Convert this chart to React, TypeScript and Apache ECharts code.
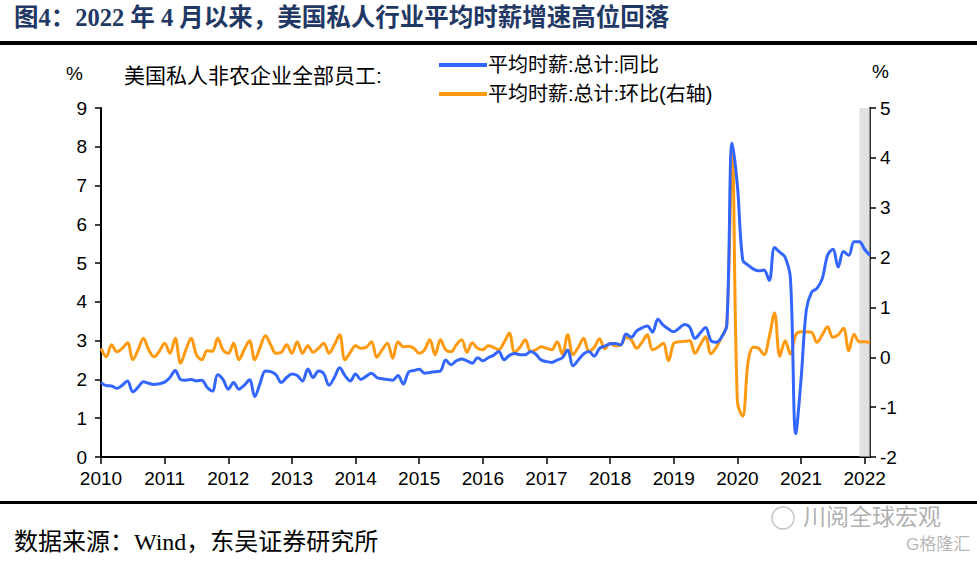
import React, { useEffect, useRef } from "react";
import * as echarts from "echarts";

const years = ["2010", "2011", "2012", "2013", "2014", "2015", "2016", "2017", "2018", "2019", "2020", "2021", "2022"];
const lastMonthOf2022 = 2;

// 平均时薪:总计:同比 (%), monthly from 2010-01
const yoy = [
  1.92, 1.84, 1.83, 1.77, 1.85, 1.96, 1.68, 1.80, 1.94, 1.90, 1.87, 1.89,
  1.93, 2.05, 2.23, 2.00, 1.98, 2.00, 1.96, 1.98, 1.80, 1.70, 2.12, 2.00,
  1.75, 1.92, 1.75, 1.85, 1.99, 1.56, 1.90, 2.22, 2.20, 2.12, 1.92, 2.05,
  2.14, 2.10, 1.96, 2.27, 2.05, 2.22, 2.15, 1.85, 2.05, 2.30, 2.10, 1.96,
  2.14, 2.00, 2.08, 2.16, 2.05, 2.02, 2.00, 1.98, 2.10, 1.88, 2.19, 2.23,
  2.26, 2.16, 2.18, 2.20, 2.22, 2.50, 2.38, 2.48, 2.53, 2.48, 2.42, 2.56,
  2.48, 2.56, 2.62, 2.72, 2.51, 2.62, 2.67, 2.64, 2.64, 2.72, 2.65, 2.50,
  2.46, 2.44, 2.50, 2.56, 2.76, 2.35, 2.50, 2.66, 2.72, 2.60, 2.80, 2.86,
  2.92, 2.93, 2.89, 3.17, 3.09, 3.25, 3.33, 3.38, 3.22, 3.55, 3.40, 3.30,
  3.23, 3.32, 3.42, 3.35, 3.06, 3.20, 3.34, 3.00, 2.96, 3.09, 3.40, 8.10,
  7.00, 5.08, 4.95, 4.85, 4.80, 4.82, 4.55, 5.40, 5.28, 5.15, 4.60, 0.60,
  2.00, 3.80, 4.25, 4.35, 4.60, 5.20, 5.36, 4.90, 5.30, 5.20, 5.55, 5.55,
  5.35, 5.20
];

// 平均时薪:总计:环比 (%, 右轴)
const mom = [
  0.18, 0.01, 0.25, 0.11, 0.18, 0.29, -0.05, 0.15, 0.38, 0.15, 0.01, 0.12,
  0.28, 0.08, 0.38, -0.12, 0.15, 0.38, 0.05, -0.05, 0.13, 0.12, 0.38, 0.15,
  0.08, 0.28, -0.05, 0.15, 0.33, -0.05, 0.20, 0.43, 0.25, 0.08, 0.10, 0.25,
  0.08, 0.31, 0.08, 0.23, 0.10, 0.18, 0.28, 0.08, 0.25, 0.45, -0.05, 0.10,
  0.23, 0.18, 0.20, 0.31, 0.00, 0.15, 0.28, -0.02, 0.31, 0.21, 0.22, 0.18,
  0.08, 0.15, 0.35, 0.05, 0.35, 0.15, 0.11, 0.25, 0.35, 0.10, 0.29, 0.18,
  0.15, 0.23, 0.20, 0.15, 0.30, 0.48, 0.10, 0.20, 0.35, 0.12, 0.15, 0.21,
  0.18, 0.15, 0.31, 0.06, 0.45, 0.05, 0.20, 0.38, 0.12, 0.20, 0.37, 0.17,
  0.28, 0.23, 0.25, 0.40, 0.35, 0.18, 0.30, 0.45, 0.15, 0.20, 0.28, -0.07,
  0.28, 0.31, 0.32, 0.33, 0.08, 0.25, 0.41, 0.07, 0.20, 0.40, 0.65, 4.26,
  -0.90, -1.18, -0.10, 0.20, 0.18, 0.05, 0.41, 0.89, 0.02, 0.33, 0.06, 0.45,
  0.51, 0.51, 0.50, 0.30, 0.45, 0.61, 0.40, 0.45, 0.58, 0.13, 0.46, 0.31,
  0.31, 0.30
];

const leftTicks = { min: 0, max: 9, interval: 1 };
const rightTicks = { min: -2, max: 5, interval: 1 };
const shadeRange = ["2021-12", "2022-02"];

const months: string[] = [];
years.forEach((y, i) => {
  const n = i === years.length - 1 ? lastMonthOf2022 : 12;
  for (let m = 1; m <= n; m++) months.push(`${y}-${m < 10 ? "0" + m : m}`);
});

const SANS = "'Liberation Sans', Arial, 'Noto Sans CJK SC', sans-serif";
const SERIF = "'Liberation Serif', 'Times New Roman', 'Noto Sans CJK SC', serif";

export default function App() {
  const ref = useRef<HTMLDivElement>(null);
  useEffect(() => {
    if (!ref.current) return;
    const chart = echarts.init(ref.current, undefined, { renderer: "svg" });
    chart.setOption({
      animation: false,
      backgroundColor: "#fff",
      grid: { left: 101, right: 107, top: 108, bottom: 104, containLabel: false },
      legend: {
        left: 434,
        top: 50,
        orient: "vertical",
        itemWidth: 48,
        itemHeight: 4,
        itemGap: 9,
        icon: "rect",
        textStyle: { fontFamily: SANS, fontSize: 20, color: "#000", padding: [0, 0, 0, -4] },
        data: ["平均时薪:总计:同比", "平均时薪:总计:环比(右轴)"],
      },
      xAxis: {
        type: "category",
        data: months,
        boundaryGap: false,
        axisLine: { lineStyle: { color: "#000", width: 2 } },
        axisTick: { show: true, interval: (i: number) => i % 12 === 0, length: 7, lineStyle: { color: "#000", width: 1.5 } },
        axisLabel: {
          interval: (i: number) => i % 12 === 0,
          formatter: (v: string) => v.slice(0, 4),
          fontFamily: SANS,
          fontSize: 19,
          color: "#000",
          margin: 12,
        },
        splitLine: { show: false },
      },
      yAxis: [
        {
          type: "value",
          ...leftTicks,
          position: "left",
          axisLine: { show: true, lineStyle: { color: "#000", width: 2 } },
          axisTick: { show: true, length: 6, lineStyle: { color: "#000", width: 1.5 } },
          axisLabel: { fontFamily: SANS, fontSize: 19, color: "#000", margin: 14 },
          splitLine: { show: false },
        },
        {
          type: "value",
          ...rightTicks,
          position: "right",
          axisLine: { show: true, lineStyle: { color: "#333", width: 2 } },
          axisTick: { show: true, length: 6, lineStyle: { color: "#000", width: 1.5 } },
          axisLabel: { fontFamily: SANS, fontSize: 19, color: "#000", margin: 10 },
          splitLine: { show: false },
        },
      ],
      series: [
        {
          name: "平均时薪:总计:同比",
          type: "line",
          data: yoy,
          yAxisIndex: 0,
          smooth: 0.35,
          showSymbol: false,
          symbol: "none",
          lineStyle: { color: "#3366ff", width: 3 },
          itemStyle: { color: "#3366ff" },
          z: 3,
        },
        {
          name: "平均时薪:总计:环比(右轴)",
          type: "line",
          data: mom,
          yAxisIndex: 1,
          smooth: 0.35,
          showSymbol: false,
          symbol: "none",
          lineStyle: { color: "#ff9910", width: 3 },
          itemStyle: { color: "#ff9910" },
          z: 2,
          markArea: {
            silent: true,
            itemStyle: { color: "rgba(205,205,205,0.6)" },
            data: [[{ xAxis: shadeRange[0] }, { xAxis: shadeRange[1] }]],
          },
        },
      ],
      graphic: [
        {
          type: "text",
          left: 14,
          top: 5,
          style: {
            text: "图4：2022 年 4 月以来，美国私人行业平均时薪增速高位回落",
            font: `bold 24.5px ${SERIF}`,
            fill: "#1f3864",
          },
        },
        { type: "rect", shape: { x: 0, y: 41, width: 977, height: 4 }, style: { fill: "#000" } },
        { type: "rect", shape: { x: 0, y: 501, width: 977, height: 3 }, style: { fill: "#000" } },
        {
          type: "text",
          left: 66,
          top: 64,
          style: { text: "%", font: `19px ${SANS}`, fill: "#000" },
        },
        {
          type: "text",
          left: 872,
          top: 62,
          style: { text: "%", font: `19px ${SANS}`, fill: "#000" },
        },
        {
          type: "text",
          left: 124,
          top: 65,
          style: { text: "美国私人非农企业全部员工:", font: `21px ${SANS}`, fill: "#000" },
        },
        {
          type: "text",
          left: 14,
          top: 530,
          style: { text: "数据来源：Wind，东吴证券研究所", font: `24px ${SERIF}`, fill: "#000" },
        },
        {
          type: "text",
          left: 803,
          top: 505,
          style: { text: "川阅全球宏观", font: `23px ${SANS}`, fill: "rgba(150,150,150,0.75)" },
        },
        {
          type: "circle",
          shape: { cx: 783, cy: 518, r: 11 },
          style: { fill: "none", stroke: "rgba(170,170,170,0.7)", lineWidth: 1.5 },
        },
        {
          type: "text",
          left: 906,
          top: 536,
          style: { text: "G格隆汇", font: `17px ${SANS}`, fill: "rgba(170,170,170,0.85)" },
        },
      ],
    });
    return () => chart.dispose();
  }, []);
  return <div ref={ref} style={{ position: "fixed", left: 0, top: 0, width: 977, height: 561 }} />;
}
